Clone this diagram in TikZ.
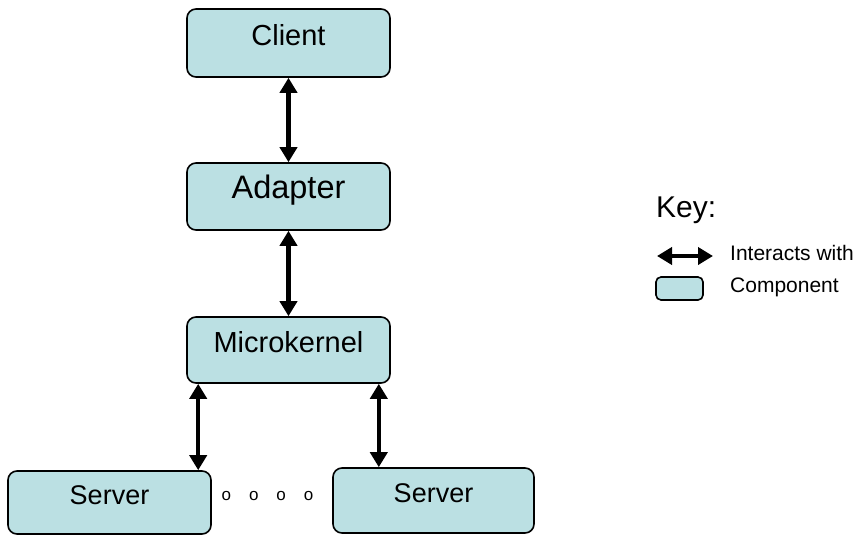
\documentclass[tikz,border=0pt]{standalone}
\usepackage{fontspec}
\setmainfont{Liberation Sans}
\usepackage{tikz}
\usetikzlibrary{arrows.meta}

\definecolor{compblue}{RGB}{187,224,227}

\begin{document}
\begin{tikzpicture}[x = 1pt, y = -1pt,
	comp/.style = {rectangle, rounded corners = 9pt, draw, line width = 1.6pt, fill = compblue, minimum width = 203pt, text height = 0.75em, text depth = 0.3em},
	link/.style = {{Triangle[width = 17pt, length = 15pt]}-{Triangle[width = 17pt, length = 15pt]}, line width = 4.5pt}
]

\useasboundingbox (0,0) rectangle (857,535);

%% Draw Components

\node[comp, minimum height = 68pt, font = \fontsize{29}{31}\selectfont] (client) at (288.5, 43) {Client};

\node[comp, minimum height = 67pt, font = \fontsize{32.5}{34}\selectfont] (adapter) at (288.5, 196.5) {Adapter};

\node[comp, minimum height = 66pt, font = \fontsize{29}{31}\selectfont] (kernel) at (288.5, 350) {Microkernel};

\node[comp, minimum height = 63pt, font = \fontsize{27}{29}\selectfont] (serverl) at (109.5, 502.5) {Server};

\node[comp, minimum width = 201pt, minimum height = 65pt, font = \fontsize{27}{29}\selectfont] (serverr) at (433.5, 500.5) {Server};

\node[anchor = base, inner sep = 0, font = \fontsize{17}{19}\selectfont] (dots) at (267.5, 500) {o\hspace{18pt}o\hspace{18pt}o\hspace{18pt}o};

%% Draw Interactions

\draw[link] (client) -- (adapter);

\draw[link] (adapter) -- (kernel);

\draw[link] ([xshift = 12pt]kernel.south west) -- ([xshift = 12pt]kernel.south west |- serverl.north);

\draw[link] ([xshift = -12pt]kernel.south east) -- ([xshift = -12pt]kernel.south east |- serverr.north);

%% Key

\node[anchor = base west, inner sep = 0, font = \fontsize{30}{32}\selectfont] (key) at (656, 217) {Key:};

\coordinate (keyl) at (657, 256);
\coordinate (keyr) at (713, 256);
\draw[link, line width = 4pt] (keyl) -- (keyr);

\node[anchor = base west, inner sep = 0, font = \fontsize{21}{23}\selectfont] (keylink) at (730, 260) {Interacts with};

\node[comp, minimum width = 47pt, minimum height = 23pt, rounded corners = 5pt] (keybox) at (679.5, 288.5) {};

\node[anchor = base west, inner sep = 0, font = \fontsize{21}{23}\selectfont] (keycomp) at (730, 292) {Component};

\end{tikzpicture}
\end{document}
